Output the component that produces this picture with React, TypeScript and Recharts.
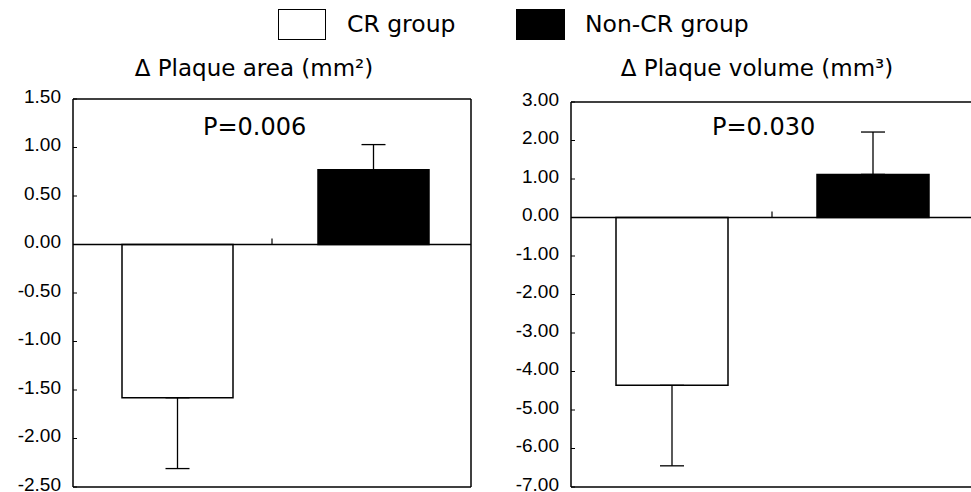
import React from "react";
import { BarChart, Bar, XAxis, YAxis, ErrorBar, Cell, ReferenceLine } from "recharts";

const groups = ["CR group", "Non-CR group"];
const groupFills = ["#ffffff", "#000000"];

const areaMeans = [-1.58, 0.77];
const areaErrLow = [0.73, 0];
const areaErrHigh = [0, 0.26];
const areaTicks = [1.5, 1.0, 0.5, 0.0, -0.5, -1.0, -1.5, -2.0, -2.5];

const volumeMeans = [-4.36, 1.12];
const volumeErrLow = [2.09, 0];
const volumeErrHigh = [0, 1.1];
const volumeTicks = [3, 2, 1, 0, -1, -2, -3, -4, -5, -6, -7];

const titles = ["Δ Plaque area (mm²)", "Δ Plaque volume (mm³)"];
const pValues = ["P=0.006", "P=0.030"];

const buildData = (means: number[], lo: number[], hi: number[]) =>
  groups.map((g, i) => ({ name: g, value: means[i], err: [lo[i], hi[i]] }));

const areaData = buildData(areaMeans, areaErrLow, areaErrHigh);
const volumeData = buildData(volumeMeans, volumeErrLow, volumeErrHigh);

const TICK_FONT = "'Liberation Sans', Arial, sans-serif";
const TEXT_FONT = "'DejaVu Sans', Verdana, sans-serif";

const YTick = (props: any) => {
  const { x, y, payload } = props;
  const ax = x + 12;
  return (
    <g>
      <line x1={ax} y1={y} x2={ax + 4} y2={y} stroke="#000" strokeWidth={1} />
      <text
        x={x}
        y={y - 3}
        textAnchor="end"
        dominantBaseline="central"
        fontFamily={TICK_FONT}
        fontSize={19}
        fill="#000"
      >
        {Number(payload.value).toFixed(2)}
      </text>
    </g>
  );
};

const MidTick = (props: any) => {
  const vb = props.viewBox || {};
  const cx = vb.x + vb.width / 2;
  return <line x1={cx} y1={vb.y} x2={cx} y2={vb.y - 6} stroke="#000" strokeWidth={1.2} />;
};

type PanelProps = {
  data: any[];
  ticks: number[];
  width: number;
  height: number;
  margin: any;
  yWidth: number;
  barSize: number;
  padLeft: number;
};

const boxLine = { stroke: "#000", strokeWidth: 1.5 };

const Panel = ({ data, ticks, width, height, margin, yWidth, barSize, padLeft }: PanelProps) => (
  <BarChart width={width} height={height} data={data} margin={margin} barCategoryGap={0}>
    <XAxis dataKey="name" height={1} tick={false} tickLine={false} axisLine={boxLine} padding={{ left: padLeft, right: 0 }} />
    <XAxis xAxisId="top" dataKey="name" orientation="top" height={1} tick={false} tickLine={false} axisLine={boxLine} />
    <YAxis
      domain={[ticks[ticks.length - 1], ticks[0]]}
      ticks={ticks}
      interval={0}
      width={yWidth}
      tickSize={0}
      tickMargin={12}
      tickLine={false}
      axisLine={boxLine}
      tick={<YTick />}
      allowDataOverflow
    />
    <YAxis
      yAxisId="right"
      orientation="right"
      domain={[ticks[ticks.length - 1], ticks[0]]}
      width={1}
      tick={false}
      tickLine={false}
      axisLine={boxLine}
    />
    <ReferenceLine y={0} stroke="#000" strokeWidth={1.5} label={<MidTick />} />
    <Bar dataKey="value" barSize={barSize} stroke="#000" strokeWidth={1.5} isAnimationActive={false}>
      {data.map((d, i) => (
        <Cell key={d.name} fill={groupFills[i]} />
      ))}
      <ErrorBar dataKey="err" width={12} stroke="#000" strokeWidth={1.3} direction="y" />
    </Bar>
  </BarChart>
);

const textBase: React.CSSProperties = { position: "absolute", whiteSpace: "nowrap" };

export default function App() {
  return (
    <div
      style={{
        position: "absolute",
        left: 0,
        top: 0,
        width: 971,
        height: 492,
        overflow: "hidden",
        background: "#fff",
        fontFamily: TEXT_FONT,
        color: "#000",
      }}
    >
      {/* Legend */}
      <div style={{ position: "absolute", left: 278, top: 9, width: 48, height: 31, boxSizing: "border-box", border: "1px solid #000", background: groupFills[0] }} />
      <div style={{ ...textBase, left: 347, top: 8, height: 32, lineHeight: "32px", fontSize: 23.5 }}>{groups[0]}</div>
      <div style={{ position: "absolute", left: 516, top: 9, width: 49, height: 31, background: groupFills[1] }} />
      <div style={{ ...textBase, left: 585, top: 8, height: 32, lineHeight: "32px", fontSize: 23.5 }}>{groups[1]}</div>

      {/* Titles */}
      <div style={{ ...textBase, left: 54, width: 400, top: 53, height: 30, lineHeight: "30px", fontSize: 23, textAlign: "center" }}>{titles[0]}</div>
      <div style={{ ...textBase, left: 557, width: 400, top: 53, height: 30, lineHeight: "30px", fontSize: 23, textAlign: "center" }}>{titles[1]}</div>

      {/* Charts */}
      <div style={{ position: "absolute", left: 0, top: 0 }}>
        <Panel data={areaData} ticks={areaTicks} width={480} height={492} margin={{ top: 98, right: 8, bottom: 4, left: 0 }} yWidth={73} barSize={111} padLeft={6} />
      </div>
      <div style={{ position: "absolute", left: 480, top: 0 }}>
        <Panel data={volumeData} ticks={volumeTicks} width={500} height={492} margin={{ top: 101, right: 6, bottom: 4, left: 0 }} yWidth={91} barSize={112} padLeft={0} />
      </div>

      {/* P values */}
      <div style={{ ...textBase, left: 203, top: 110, height: 34, lineHeight: "34px", fontSize: 24 }}>{pValues[0]}</div>
      <div style={{ ...textBase, left: 712, top: 110, height: 34, lineHeight: "34px", fontSize: 24 }}>{pValues[1]}</div>
    </div>
  );
}
